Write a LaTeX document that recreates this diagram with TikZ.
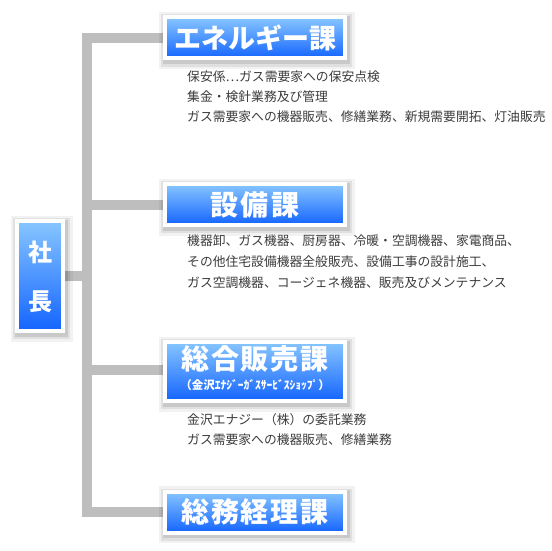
\documentclass[tikz,border=0pt]{standalone}
\usepackage{fontspec}
\newfontfamily\jp{Noto Sans CJK JP}
\usetikzlibrary{backgrounds}
\definecolor{bargray}{RGB}{190,190,190}
\definecolor{bluetop}{RGB}{135,198,255}
\definecolor{bluebot}{RGB}{20,100,255}
\definecolor{desc}{RGB}{60,60,60}
\tikzset{
  halo/.style={
    preaction={draw=black,opacity=0.05,line width=16pt,transform canvas={xshift=1.5pt,yshift=-2.5pt}},
    preaction={draw=black,opacity=0.07,line width=11pt,transform canvas={xshift=1.5pt,yshift=-2.5pt}},
    preaction={draw=black,opacity=0.10,line width=7pt,transform canvas={xshift=1pt,yshift=-2pt}}},
  bluebox/.style={halo, draw=white, line width=4pt, top color=bluetop, bottom color=bluebot,
    inner sep=0pt, text=white},
  deptbox/.style={bluebox, minimum width=180pt, minimum height=41pt},
  titletext/.style={text=white, inner sep=0pt},
  titlefont/.style={font=\jp\bfseries\fontsize{#1}{30}\selectfont},
  desctext/.style={anchor=west, inner sep=0pt, text=desc, font=\jp\fontsize{12.8}{15}\selectfont},
  bar/.style={draw=bargray, line width=10pt, line join=miter}
}
\begin{document}
\begin{tikzpicture}[x=1pt,y=-1pt]
\useasboundingbox (0,0) rectangle (551,551);
\begin{pgfonlayer}{background}
\fill[white] (0,0) rectangle (551,551);
\end{pgfonlayer}
\coordinate (spinex) at (87,0);

% president
\node[bluebox, minimum width=46pt, minimum height=110pt] (sh) at (40,276) {};
\node[titletext, align=center, font=\jp\bfseries\fontsize{24}{49}\selectfont] (sht) at (40,277) {社\\長};

% departments
\node[deptbox, titlefont=27] (en) at (255,38) {エネルギー課};
\node[deptbox, titlefont=28] (sb) at (255,204.5) {\addfontfeature{LetterSpace=8}設備課\hspace{-2pt}};
\node[bluebox, minimum width=180pt, minimum height=59pt] (sg) at (255,371.5) {};
\node[titletext, titlefont=28] (sgt) at (255,359) {\addfontfeature{LetterSpace=6}総合販売課\hspace{-1.5pt}};
\node[titletext, font=\jp\bfseries\fontsize{11.5}{13}\selectfont] (sgs) at (255,385) {（金沢ｴﾅｼﾞｰｶﾞｽｻｰﾋﾞｽｼｮｯﾌﾟ）};
\node[deptbox, titlefont=28] (sm) at (255,512) {\addfontfeature{LetterSpace=6}総務経理課\hspace{-1.5pt}};

% descriptions
\node[desctext] (e1) at (187,77) {保安係⋯ガス需要家への保安点検};
\node[desctext] (e2) at (187,97) {集金・検針業務及び管理};
\node[desctext] (e3) at (187,117) {ガス需要家への機器販売、修繕業務、新規需要開拓、灯油販売};
\node[desctext] (s1) at (187,241) {機器卸、ガス機器、厨房器、冷暖・空調機器、家電商品、};
\node[desctext] (s2) at (187,262) {その他住宅設備機器全般販売、設備工事の設計施工、};
\node[desctext] (s3) at (187,283) {ガス空調機器、コージェネ機器、販売及びメンテナンス};
\node[desctext] (g1) at (187,420) {金沢エナジー（株）の委託業務};
\node[desctext] (g2) at (187,440) {ガス需要家への機器販売、修繕業務};

% connectors
\begin{pgfonlayer}{background}
\draw[bar] (en.west) -| (sm.west -| spinex) -- (sm.west);
\draw[bar] (sb.west) -- (sb.west -| spinex);
\draw[bar] ([yshift=2pt]sg.west) -- ([yshift=2pt]sg.west -| spinex);
\draw[bar] (sh.east) -- (sh.east -| spinex);
\end{pgfonlayer}
\end{tikzpicture}
\end{document}
